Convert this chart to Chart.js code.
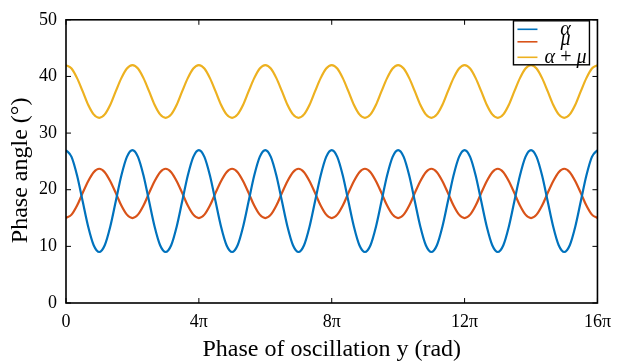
<!DOCTYPE html>
<html><head><meta charset="utf-8">
<script src="https://cdn.jsdelivr.net/npm/chart.js@4"></script>
<style>html,body{margin:0;padding:0;background:#fff}#wrap{width:619px;height:364px;position:relative}</style>
</head><body><div id="wrap"><canvas id="c" width="619" height="364"></canvas></div>
<script>
// x positions in units of pi/6 (phase of oscillation)
const xs = [
 0,1,2,3,4,5,6,7,8,9,10,11,
 12,13,14,15,16,17,18,19,20,21,22,23,
 24,25,26,27,28,29,30,31,32,33,34,35,
 36,37,38,39,40,41,42,43,44,45,46,47,
 48,49,50,51,52,53,54,55,56,57,58,59,
 60,61,62,63,64,65,66,67,68,69,70,71,
 72,73,74,75,76,77,78,79,80,81,82,83,
 84,85,86,87,88,89,90,91,92,93,94,95,
 96];
const alpha = [
 27,25.8,22.5,18,13.5,10.2,9,10.2,13.5,18,22.5,25.8,
 27,25.8,22.5,18,13.5,10.2,9,10.2,13.5,18,22.5,25.8,
 27,25.8,22.5,18,13.5,10.2,9,10.2,13.5,18,22.5,25.8,
 27,25.8,22.5,18,13.5,10.2,9,10.2,13.5,18,22.5,25.8,
 27,25.8,22.5,18,13.5,10.2,9,10.2,13.5,18,22.5,25.8,
 27,25.8,22.5,18,13.5,10.2,9,10.2,13.5,18,22.5,25.8,
 27,25.8,22.5,18,13.5,10.2,9,10.2,13.5,18,22.5,25.8,
 27,25.8,22.5,18,13.5,10.2,9,10.2,13.5,18,22.5,25.8,
 27];
const mu = [
 15,15.6,17.2,19.4,21.5,23.1,23.7,23.1,21.5,19.4,17.2,15.6,
 15,15.6,17.2,19.4,21.5,23.1,23.7,23.1,21.5,19.4,17.2,15.6,
 15,15.6,17.2,19.4,21.5,23.1,23.7,23.1,21.5,19.4,17.2,15.6,
 15,15.6,17.2,19.4,21.5,23.1,23.7,23.1,21.5,19.4,17.2,15.6,
 15,15.6,17.2,19.4,21.5,23.1,23.7,23.1,21.5,19.4,17.2,15.6,
 15,15.6,17.2,19.4,21.5,23.1,23.7,23.1,21.5,19.4,17.2,15.6,
 15,15.6,17.2,19.4,21.5,23.1,23.7,23.1,21.5,19.4,17.2,15.6,
 15,15.6,17.2,19.4,21.5,23.1,23.7,23.1,21.5,19.4,17.2,15.6,
 15];
const alphaPlusMu = [
 42,41.4,39.7,37.4,35,33.3,32.7,33.3,35,37.4,39.7,41.4,
 42,41.4,39.7,37.4,35,33.3,32.7,33.3,35,37.4,39.7,41.4,
 42,41.4,39.7,37.4,35,33.3,32.7,33.3,35,37.4,39.7,41.4,
 42,41.4,39.7,37.4,35,33.3,32.7,33.3,35,37.4,39.7,41.4,
 42,41.4,39.7,37.4,35,33.3,32.7,33.3,35,37.4,39.7,41.4,
 42,41.4,39.7,37.4,35,33.3,32.7,33.3,35,37.4,39.7,41.4,
 42,41.4,39.7,37.4,35,33.3,32.7,33.3,35,37.4,39.7,41.4,
 42,41.4,39.7,37.4,35,33.3,32.7,33.3,35,37.4,39.7,41.4,
 42];
const seriesNames = ['α', 'μ', 'α+μ'];
const xTickPos = [0, 24, 48, 72, 96];
const xTickLabels = ['0', '4π', '8π', '12π', '16π'];
const yTicks = [0, 10, 20, 30, 40, 50];

const colors = ['#0072BD', '#D95319', '#EDB120'];
const serif = "'Liberation Serif', 'DejaVu Serif', serif";

const frame = {
  id: 'frame',
  afterDatasetsDraw(chart) {
    const {ctx, chartArea: {left, right, top, bottom}, scales: {x, y}} = chart;
    ctx.save();
    ctx.strokeStyle = '#000';
    ctx.lineWidth = 1;
    const L = 5;
    const seg = (a, b, c, d) => { ctx.beginPath(); ctx.moveTo(a, b); ctx.lineTo(c, d); ctx.stroke(); };
    x.ticks.forEach(t => { const p = x.getPixelForValue(t.value); seg(p, bottom, p, bottom - L); seg(p, top, p, top + L); });
    y.ticks.forEach(t => { const p = y.getPixelForValue(t.value); seg(left, p, left + L, p); seg(right, p, right - L, p); });
    ctx.lineWidth = 1.6;
    ctx.strokeRect(left, top, right - left, bottom - top);
    // legend
    const bx = right - 84, by = top + 1, bw = 76, bh = 44;
    ctx.fillStyle = '#fff';
    ctx.fillRect(bx, by, bw, bh);
    ctx.lineWidth = 1.4;
    ctx.strokeRect(bx, by, bw, bh);
    const rows = [by + 8.5, by + 21, by + 36.5];
    ctx.font = 'italic 20px ' + serif;
    ctx.textAlign = 'center';
    ctx.textBaseline = 'middle';
    chart.data.datasets.forEach((ds, i) => {
      ctx.strokeStyle = ds.borderColor;
      ctx.lineWidth = 1.6;
      seg(bx + 4, rows[i], bx + 24, rows[i]);
      ctx.fillStyle = '#000';
      ctx.fillText(ds.label.replace('+', '\u2009+\u2009'), bx + 52, rows[i] + (i === 1 ? -2 : 0));
    });
    ctx.restore();
  }
};

new Chart(document.getElementById('c'), {
  type: 'line',
  data: {
    labels: xs,
    datasets: [
      {label: seriesNames[0], data: alpha, borderColor: colors[0]},
      {label: seriesNames[1], data: mu, borderColor: colors[1]},
      {label: seriesNames[2], data: alphaPlusMu, borderColor: colors[2]}
    ].map(d => Object.assign(d, {borderWidth: 2.2, pointRadius: 0, cubicInterpolationMode: 'monotone', fill: false}))
  },
  options: {
    responsive: false,
    devicePixelRatio: 1,
    animation: false,
    layout: {padding: {top: 14, right: 19, left: 0, bottom: 0}},
    plugins: {legend: {display: false}, tooltip: {enabled: false}},
    scales: {
      x: {
        type: 'linear', min: 0, max: 96,
        grid: {display: false, drawTicks: false},
        border: {display: false},
        afterBuildTicks: s => { s.ticks = xTickPos.map(v => ({value: v})); },
        afterFit: s => { s.height = 61; },
        ticks: {
          padding: 8, color: '#000', font: {family: serif, size: 18}, maxRotation: 0,
          callback: v => xTickLabels[xTickPos.indexOf(v)]
        },
        title: {display: true, text: 'Phase of oscillation y (rad)', color: '#000', font: {family: serif, size: 24}, padding: 0}
      },
      y: {
        min: 0, max: 50,
        grid: {display: false, drawTicks: false},
        border: {display: false},
        afterBuildTicks: s => { s.ticks = yTicks.map(v => ({value: v})); },
        afterFit: s => { s.width = 66; },
        ticks: {padding: 9, color: '#000', font: {family: serif, size: 18}},
        title: {display: true, text: 'Phase angle (°)   ', color: '#000', font: {family: serif, size: 24}, padding: 6}
      }
    }
  },
  plugins: [frame]
});
</script></body></html>
